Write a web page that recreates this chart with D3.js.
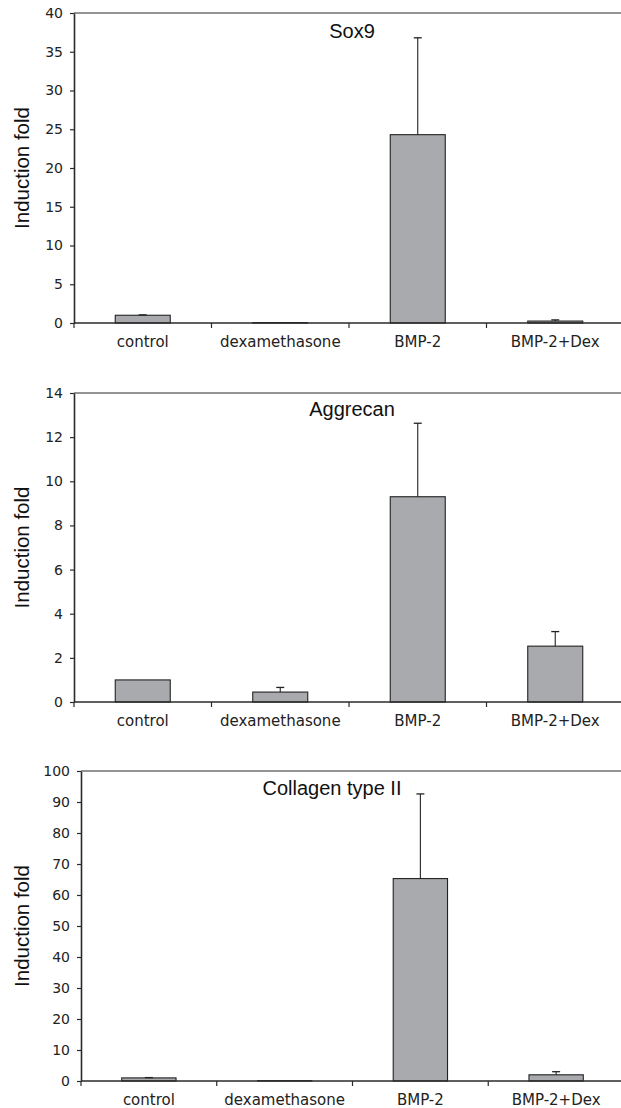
<!DOCTYPE html>
<html>
<head>
<meta charset="utf-8">
<script src="https://cdn.jsdelivr.net/npm/d3@7"></script>
<style>
  html, body { margin: 0; padding: 0; background: #fff; }
  svg { display: block; }
</style>
</head>
<body>
<svg id="chart" width="621" height="1108"></svg>
<script>
// ---------- data ----------
const categories = ["control", "dexamethasone", "BMP-2", "BMP-2+Dex"];

const sox9Values = [1.0, 0.05, 24.3, 0.25];
const sox9Errors = [0.05, 0.0, 12.5, 0.15];
const sox9Ticks = [0, 5, 10, 15, 20, 25, 30, 35, 40];

const aggrecanValues = [1.0, 0.45, 9.3, 2.53];
const aggrecanErrors = [0.0, 0.21, 3.33, 0.66];
const aggrecanTicks = [0, 2, 4, 6, 8, 10, 12, 14];

const collagenValues = [1.0, 0.1, 65.3, 2.0];
const collagenErrors = [0.1, 0.0, 27.3, 1.0];
const collagenTicks = [0, 10, 20, 30, 40, 50, 60, 70, 80, 90, 100];

const titles = ["Sox9", "Aggrecan", "Collagen type II"];
const yLabel = "Induction fold";

// ---------- layout ----------
const panels = [
  { title: titles[0], values: sox9Values, errors: sox9Errors, ticks: sox9Ticks,
    left: 74, right: 624, top: 13, bottom: 323, titleX: 352, titleY: 38 },
  { title: titles[1], values: aggrecanValues, errors: aggrecanErrors, ticks: aggrecanTicks,
    left: 74, right: 624, top: 393, bottom: 702, titleX: 352, titleY: 416 },
  { title: titles[2], values: collagenValues, errors: collagenErrors, ticks: collagenTicks,
    left: 81, right: 624, top: 771, bottom: 1081, titleX: 332, titleY: 795 }
];

const svg = d3.select("#chart");
const axisColor = "#2a2a2a";
const barFill = "#a9aaad";
const tickFont = "'DejaVu Sans', Verdana, sans-serif";
const labelFont = "'Liberation Sans', Arial, sans-serif";

panels.forEach(p => {
  const g = svg.append("g");
  const x = d3.scaleBand().domain(categories).range([p.left, p.right])
    .paddingInner(0.6).paddingOuter(0.3);
  const step = x.step();
  const yMax = p.ticks[p.ticks.length - 1];
  const y = d3.scaleLinear().domain([0, yMax]).range([p.bottom, p.top]);

  // top frame line
  g.append("line")
    .attr("x1", p.left).attr("x2", p.right)
    .attr("y1", y(yMax)).attr("y2", y(yMax))
    .attr("stroke", axisColor).attr("stroke-width", 1.2);

  // y axis
  const yAxis = g.append("g")
    .attr("transform", `translate(${p.left},0)`)
    .call(d3.axisLeft(y).tickValues(p.ticks).tickSize(4).tickSizeOuter(0).tickPadding(7));
  yAxis.select(".domain").attr("stroke", axisColor).attr("stroke-width", 1.6);
  yAxis.selectAll(".tick line").attr("stroke", axisColor).attr("stroke-width", 1.2);
  yAxis.selectAll(".tick text")
    .attr("font-family", tickFont).attr("font-size", 14).attr("fill", "#222");

  // bars
  g.selectAll("rect.bar")
    .data(categories.map((c, i) => ({ c, v: p.values[i], e: p.errors[i] })))
    .join("rect")
    .attr("class", "bar")
    .attr("x", d => x(d.c))
    .attr("width", x.bandwidth())
    .attr("y", d => y(d.v))
    .attr("height", d => y(0) - y(d.v))
    .attr("fill", barFill)
    .attr("stroke", "#222")
    .attr("stroke-width", 1.1);

  // error bars (upper only)
  const eb = categories.map((c, i) => ({ c, v: p.values[i], e: p.errors[i] })).filter(d => d.e > 0);
  const ebG = g.selectAll("g.err").data(eb).join("g").attr("class", "err");
  ebG.append("line")
    .attr("x1", d => x(d.c) + x.bandwidth() / 2)
    .attr("x2", d => x(d.c) + x.bandwidth() / 2)
    .attr("y1", d => y(d.v)).attr("y2", d => y(d.v + d.e))
    .attr("stroke", "#222").attr("stroke-width", 1.1);
  ebG.append("line")
    .attr("x1", d => x(d.c) + x.bandwidth() / 2 - 4)
    .attr("x2", d => x(d.c) + x.bandwidth() / 2 + 4)
    .attr("y1", d => y(d.v + d.e)).attr("y2", d => y(d.v + d.e))
    .attr("stroke", "#222").attr("stroke-width", 1.3);

  // x axis (baseline + category labels)
  const xAxis = g.append("g")
    .attr("transform", `translate(0,${y(0)})`)
    .call(d3.axisBottom(x).tickSize(0).tickPadding(13));
  xAxis.select(".domain").remove();
  xAxis.selectAll(".tick text")
    .attr("font-family", tickFont).attr("font-size", 15).attr("fill", "#222");
  g.append("line")
    .attr("x1", p.left).attr("x2", p.right)
    .attr("y1", y(0)).attr("y2", y(0))
    .attr("stroke", axisColor).attr("stroke-width", 1.6);
  // category boundary ticks
  g.selectAll("line.ctick")
    .data(d3.range(categories.length))
    .join("line")
    .attr("class", "ctick")
    .attr("x1", i => p.left + i * step).attr("x2", i => p.left + i * step)
    .attr("y1", y(0)).attr("y2", y(0) + 5)
    .attr("stroke", axisColor).attr("stroke-width", 1.2);

  // title
  g.append("text")
    .attr("x", p.titleX).attr("y", p.titleY)
    .attr("text-anchor", "middle")
    .attr("font-family", labelFont).attr("font-size", 20).attr("fill", "#111")
    .text(p.title);

  // y label
  g.append("text")
    .attr("transform", `translate(29,${(p.top + p.bottom) / 2}) rotate(-90)`)
    .attr("text-anchor", "middle")
    .attr("font-family", labelFont).attr("font-size", 20.5).attr("fill", "#111")
    .text(yLabel);
});
</script>
</body>
</html>
